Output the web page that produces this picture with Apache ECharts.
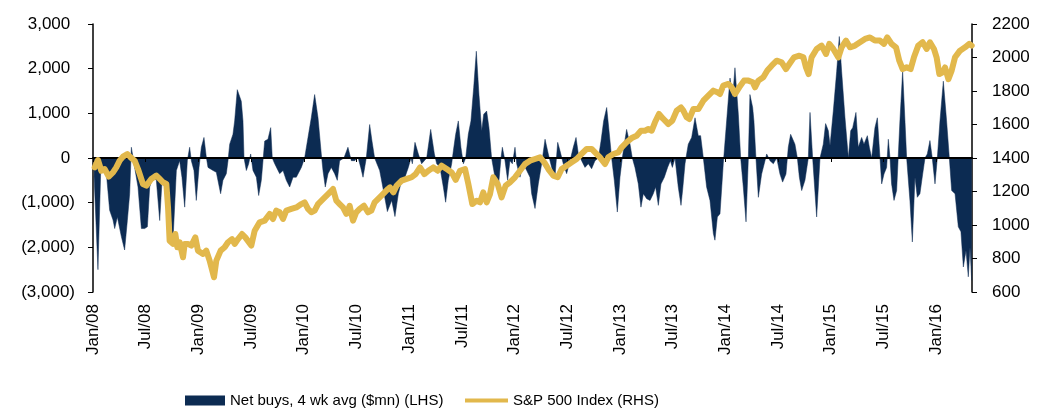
<!DOCTYPE html>
<html>
<head>
<meta charset="utf-8">
<script src="https://cdn.jsdelivr.net/npm/echarts@6/dist/echarts.min.js"></script>
<style>
html,body{margin:0;padding:0;background:#fff;}
#chart{width:1042px;height:411px;}
</style>
</head>
<body>
<div id="chart"></div>
<script type="text/javascript">
// x values are decimal years (2008.5 = Jul/08)
var netYears = [2008.01,2008.047,2008.073,2008.104,2008.127,2008.158,2008.190,2008.206,2008.231,2008.269,2008.300,2008.326,2008.348,2008.364,2008.395,2008.427,2008.459,2008.490,2008.516,2008.538,2008.569,2008.601,2008.633,2008.655,2008.680,2008.727,2008.759,2008.791,2008.822,2008.844,2008.870,2008.895,2008.917,2008.933,2008.958,2008.980,
  2009.006,2009.028,2009.053,2009.075,2009.091,2009.139,2009.170,2009.211,2009.233,2009.265,2009.281,2009.297,2009.328,2009.344,2009.369,2009.407,2009.423,2009.433,2009.455,2009.477,2009.496,2009.518,2009.550,2009.572,2009.597,2009.629,2009.660,2009.686,2009.701,2009.724,2009.771,2009.803,2009.834,2009.866,2009.898,2009.929,2009.977,
  2010.008,2010.040,2010.071,2010.103,2010.135,2010.166,2010.182,2010.204,2010.230,2010.261,2010.293,2010.318,2010.340,2010.381,2010.419,2010.451,2010.483,2010.514,2010.540,2010.562,2010.593,2010.625,2010.647,2010.672,2010.720,2010.767,2010.793,2010.834,2010.865,2010.897,2010.929,2010.960,2010.992,
  2011.017,2011.030,2011.055,2011.087,2011.103,2011.118,2011.144,2011.166,2011.204,2011.239,2011.261,2011.292,2011.324,2011.346,2011.371,2011.403,2011.419,2011.441,2011.466,2011.491,2011.514,2011.536,2011.561,2011.586,2011.612,2011.637,2011.662,2011.688,2011.707,2011.735,2011.757,2011.782,2011.814,2011.846,2011.871,2011.884,2011.909,2011.934,2011.956,2011.979,
  2012.004,2012.020,2012.051,2012.083,2012.115,2012.146,2012.162,2012.194,2012.225,2012.257,2012.289,2012.320,2012.352,2012.383,2012.409,2012.431,2012.462,2012.494,2012.526,2012.557,2012.583,2012.605,2012.636,2012.668,2012.700,2012.731,2012.763,2012.795,2012.820,2012.845,2012.874,2012.896,2012.921,2012.946,2012.975,
  2013.000,2013.022,2013.041,2013.063,2013.095,2013.117,2013.142,2013.174,2013.199,2013.222,2013.253,2013.285,2013.316,2013.338,2013.364,2013.389,2013.421,2013.452,2013.478,2013.497,2013.522,2013.553,2013.579,2013.595,2013.617,2013.648,2013.680,2013.712,2013.743,2013.765,2013.791,2013.822,2013.854,2013.886,2013.901,2013.924,2013.949,2013.980,
  2014.012,2014.044,2014.069,2014.091,2014.123,2014.145,2014.170,2014.196,2014.218,2014.233,2014.259,2014.271,2014.290,2014.313,2014.344,2014.376,2014.392,2014.423,2014.455,2014.487,2014.518,2014.543,2014.575,2014.597,2014.619,2014.660,2014.683,2014.702,2014.724,2014.755,2014.787,2014.803,2014.828,2014.866,2014.898,2014.929,2014.951,2014.977,2014.993,
  2015.008,2015.024,2015.056,2015.081,2015.103,2015.135,2015.167,2015.189,2015.208,2015.239,2015.261,2015.293,2015.315,2015.347,2015.366,2015.388,2015.419,2015.442,2015.467,2015.483,2015.505,2015.530,2015.546,2015.562,2015.577,2015.600,2015.625,2015.656,2015.682,2015.704,2015.720,2015.751,2015.774,2015.799,2015.821,2015.846,2015.872,2015.894,2015.916,2015.941,2015.963,2015.989,
  2016.011,2016.036,2016.068,2016.099,2016.125,2016.147,2016.179,2016.210,2016.235,2016.258,2016.283,2016.305,2016.321,2016.337];
var netBuys = [-400,-2500,-300,-200,-350,-1170,-1390,-1580,-1320,-1760,-2060,-1400,-800,240,-210,-650,-1580,-1580,-1540,-650,-430,-500,-1400,-500,-650,-1100,-1840,-280,-60,-430,-1100,-60,240,-60,-280,-950,
  -210,240,460,20,-210,-280,-320,-800,-500,-350,-60,310,530,830,1530,1270,830,0,-280,-130,90,-280,-430,-840,-500,380,420,680,0,-130,-350,-280,-500,-650,-430,-430,-210,
  0,460,900,1420,900,90,-280,-650,-350,-210,-350,-500,-60,0,240,-60,-60,20,-210,-430,0,750,380,0,-280,-870,-1200,-950,-1310,-800,-500,-430,-210,
  0,-130,350,90,130,-130,-60,0,640,90,-130,-210,-650,-990,-500,-130,160,530,830,240,-130,0,530,830,1580,2390,1420,610,980,1050,680,0,-430,-650,0,240,-60,-500,-60,-130,
  240,-130,-430,-130,-280,-430,-800,-1130,-580,-130,420,90,-210,-430,350,160,-130,-350,-60,240,460,90,-60,-210,-130,-240,-60,0,380,830,1130,610,0,-500,-1210,
  -430,0,310,640,310,0,-210,-580,-1100,-800,-910,-950,-800,-650,-1060,-580,-430,-210,-60,-210,0,-650,-1060,-700,-130,310,460,900,500,500,0,-650,-950,-1690,-1840,-1320,-1250,-130,
  830,1790,1350,2020,980,0,-650,-1430,0,1420,1130,830,0,-880,-360,-60,90,-60,-130,0,-360,-540,-360,240,530,310,0,-430,-730,-500,0,1020,0,-1320,0,310,770,610,280,
  310,1050,1940,2720,1940,900,0,610,680,1020,240,460,310,500,240,0,680,900,0,-580,-360,-210,420,0,-580,-950,-730,830,1950,830,0,-950,-1880,-430,-880,-800,-360,0,90,390,0,-580,
  0,830,1720,830,0,-730,-800,-1540,-1650,-2440,-2070,-2660,-2000,-2740];

var spxYears = [2008.016,2008.047,2008.079,2008.111,2008.149,2008.190,2008.221,2008.253,2008.285,2008.326,2008.357,2008.395,2008.427,2008.474,2008.506,2008.553,2008.601,2008.633,2008.664,2008.696,2008.712,2008.727,2008.759,2008.781,2008.800,2008.822,2008.854,2008.870,2008.901,2008.933,2008.971,2008.996,
  2009.044,2009.075,2009.107,2009.148,2009.170,2009.211,2009.249,2009.281,2009.319,2009.344,2009.376,2009.414,2009.445,2009.502,2009.534,2009.581,2009.629,2009.676,2009.708,2009.739,2009.771,2009.803,2009.834,2009.882,2009.929,2009.977,
  2010.008,2010.040,2010.071,2010.103,2010.135,2010.182,2010.230,2010.277,2010.309,2010.340,2010.372,2010.404,2010.435,2010.467,2010.498,2010.530,2010.571,2010.609,2010.641,2010.672,2010.720,2010.767,2010.799,2010.818,2010.850,2010.881,2010.929,2010.976,
  2011.023,2011.061,2011.103,2011.144,2011.182,2011.229,2011.270,2011.308,2011.356,2011.403,2011.441,2011.482,2011.530,2011.561,2011.599,2011.640,2011.672,2011.703,2011.735,2011.767,2011.798,2011.839,2011.877,2011.915,2011.956,
  2012.004,2012.051,2012.099,2012.146,2012.194,2012.241,2012.282,2012.320,2012.368,2012.409,2012.447,2012.494,2012.542,2012.589,2012.636,2012.684,2012.731,2012.763,2012.810,2012.858,2012.889,2012.937,2012.984,
  2013.016,2013.063,2013.111,2013.158,2013.199,2013.237,2013.269,2013.301,2013.332,2013.370,2013.411,2013.459,2013.497,2013.538,2013.579,2013.601,2013.632,2013.658,2013.696,2013.743,2013.791,2013.838,2013.886,2013.924,2013.949,2013.980,
  2014.028,2014.060,2014.091,2014.132,2014.177,2014.218,2014.259,2014.281,2014.313,2014.360,2014.398,2014.439,2014.487,2014.534,2014.575,2014.607,2014.651,2014.702,2014.740,2014.765,2014.790,2014.818,2014.866,2014.913,2014.955,2014.986,
  2015.024,2015.072,2015.103,2015.144,2015.182,2015.230,2015.277,2015.325,2015.372,2015.419,2015.467,2015.505,2015.536,2015.577,2015.619,2015.650,2015.682,2015.720,2015.758,2015.789,2015.830,2015.872,2015.910,2015.941,2015.979,
  2016.004,2016.030,2016.062,2016.084,2016.116,2016.147,2016.179,2016.226,2016.274,2016.314,2016.337];
var spx = [1344,1388,1324,1334,1289,1314,1344,1384,1408,1424,1404,1384,1334,1245,1235,1275,1295,1275,1255,1245,1105,906,887,946,867,897,807,887,887,877,926,847,
  827,847,787,688,787,847,867,897,916,887,916,946,926,877,966,1016,1026,1066,1036,1086,1076,1036,1086,1096,1105,1125,
  1135,1096,1076,1086,1125,1155,1185,1215,1145,1125,1105,1066,1115,1026,1076,1096,1115,1076,1086,1135,1165,1195,1215,1225,1195,1235,1265,1275,
  1285,1304,1344,1304,1324,1344,1324,1354,1334,1314,1269,1324,1334,1245,1125,1145,1135,1195,1135,1185,1285,1245,1165,1235,1255,
  1285,1324,1364,1384,1394,1404,1374,1334,1295,1285,1334,1354,1374,1394,1424,1454,1454,1434,1404,1364,1404,1424,1434,
  1464,1494,1519,1533,1563,1563,1573,1563,1613,1663,1633,1603,1623,1683,1702,1683,1643,1633,1692,1692,1742,1772,1802,1792,1782,1832,
  1842,1822,1782,1822,1862,1862,1852,1822,1862,1882,1922,1951,1981,1971,1931,1961,2001,2011,2001,1941,1901,2001,2051,2071,2021,2081,
  2051,2001,2061,2101,2061,2071,2091,2111,2120,2101,2101,2081,2120,2081,2061,1981,1931,1941,1931,2001,2071,2091,2051,2091,2051,
  2001,1901,1911,1941,1871,1922,2001,2041,2061,2081,2071];

var tickYears = [2008,2008.5,2009,2009.5,2010,2010.5,2011,2011.5,2012,2012.5,2013,2013.5,2014,2014.5,2015,2015.5,2016];

var navy = '#0c2b52';
var gold = '#e2b84c';

function pair(xs, ys){
  var out = [];
  for(var i=0;i<xs.length;i++) out.push([xs[i], ys[i]]);
  return out;
}
function lhsLabel(v){
  var s = Math.abs(v).toLocaleString('en-US');
  return v < 0 ? '(' + s + ')' : s + ' ';
}
function dateLabel(v){
  var y = Math.floor(v + 0.01);
  var half = (v - y) > 0.25;
  return (half ? 'Jul/' : 'Jan/') + String(y).slice(2);
}

var myChart = echarts.init(document.getElementById('chart'));
myChart.setOption({
  animation: false,
  textStyle: { fontFamily: "'Liberation Sans', Arial, sans-serif", color: '#000' },
  grid: { left: 93, right: 70, top: 24, bottom: 119, outerBoundsMode: 'none' },
  legend: [
    {
      left: 180, top: 388,
      itemWidth: 40, itemHeight: 10, itemGap: 5,
      textStyle: { fontSize: 15, color: '#000' },
      data: [{ name: 'Net buys, 4 wk avg ($mn) (LHS)', icon: 'rect' }]
    },
    {
      left: 460, top: 388,
      itemWidth: 43, itemHeight: 4,
      textStyle: { fontSize: 15, color: '#000' },
      data: [{ name: 'S&P 500 Index (RHS)', icon: 'rect' }]
    }
  ],
  xAxis: [
    {
      type: 'value', min: 2008, max: 2016.34, position: 'bottom',
      axisLine: { show: false, onZero: false },
      axisTick: { show: false },
      splitLine: { show: false },
      axisLabel: {
        customValues: tickYears, rotate: 90, margin: 12,
        fontSize: 17, color: '#000', formatter: dateLabel
      }
    },
    {
      type: 'value', min: 2008, max: 2016.34, position: 'bottom', z: 3,
      axisLine: { show: true, onZero: true, lineStyle: { color: '#000', width: 2 } },
      axisTick: { show: true, customValues: tickYears, length: 4, lineStyle: { color: '#000', width: 1 } },
      axisLabel: { show: false },
      splitLine: { show: false }
    }
  ],
  yAxis: [
    {
      type: 'value', min: -3000, max: 3000, interval: 1000, position: 'left',
      axisLine: { show: true, lineStyle: { color: '#000', width: 1.5 } },
      axisTick: { show: true, length: 5, lineStyle: { color: '#000' } },
      splitLine: { show: false },
      axisLabel: { fontSize: 17, color: '#000', margin: 18, formatter: lhsLabel }
    },
    {
      type: 'value', min: 600, max: 2200, interval: 200, position: 'right',
      axisLine: { show: true, lineStyle: { color: '#000', width: 1.5 } },
      axisTick: { show: true, length: 5, lineStyle: { color: '#000' } },
      splitLine: { show: false },
      axisLabel: { fontSize: 17, color: '#000', margin: 20, formatter: function(v){ return String(v); } }
    }
  ],
  series: [
    {
      name: 'Net buys, 4 wk avg ($mn) (LHS)',
      type: 'line', xAxisIndex: 0, yAxisIndex: 0,
      data: pair(netYears, netBuys),
      showSymbol: false, symbol: 'none',
      itemStyle: { color: navy },
      lineStyle: { color: navy, width: 0.5 },
      areaStyle: { color: navy, opacity: 1 },
      z: 2
    },
    {
      name: 'S&P 500 Index (RHS)',
      type: 'line', xAxisIndex: 0, yAxisIndex: 1,
      data: pair(spxYears, spx),
      showSymbol: false, symbol: 'none',
      itemStyle: { color: gold },
      lineStyle: { color: gold, width: 6, join: 'round', cap: 'round' },
      z: 5
    }
  ]
});
</script>
</body>
</html>
